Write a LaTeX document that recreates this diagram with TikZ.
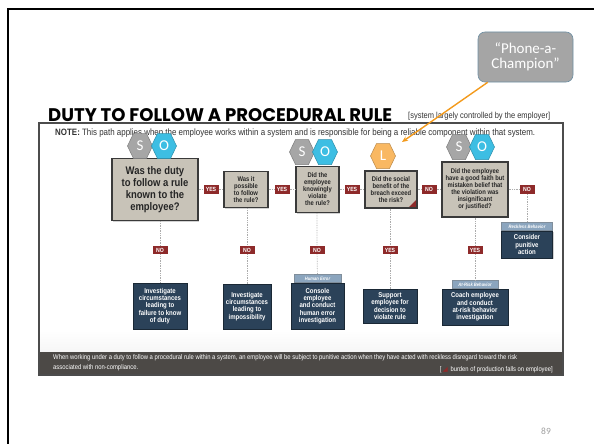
\documentclass[tikz,border=0pt]{standalone}
\usepackage{fontspec}
\usetikzlibrary{shadows,arrows.meta,calc}

\newfontfamily\condf{Liberation Sans}[FakeStretch=0.86]
\newfontfamily\headf{Poppins}
\newfontfamily\calf{Carlito}
\newfontfamily\symf{DejaVu Sans}

\definecolor{qfill}{HTML}{C8C3B8}
\definecolor{qline}{HTML}{3A3A3A}
\definecolor{navy}{HTML}{2B4259}
\definecolor{tagred}{HTML}{8E2A2A}
\definecolor{barblue}{HTML}{8BA5BE}
\definecolor{footgray}{HTML}{4C4946}
\definecolor{hexS}{HTML}{A6A6A6}
\definecolor{hexO}{HTML}{3DBEE3}
\definecolor{hexL}{HTML}{F9B862}
\definecolor{callgray}{HTML}{A5A5A5}
\definecolor{callline}{HTML}{6E8FA3}
\definecolor{arroworange}{HTML}{F39A1C}
\definecolor{notegray}{HTML}{333333}

% hexagonal letter badge: name, x, y, colour, letter
\newcommand\hexcell[5]{%
  \filldraw[fill=#4, draw=#4!75!black, line width=0.5pt]
    (#2,#3) +(-12.5,0) -- +(-6.5,-12.5) -- +(6.5,-12.5) -- +(12.5,0)
    -- +(6.5,12.5) -- +(-6.5,12.5) -- cycle;
  \node[hexlet] (#1) at (#2,#3) {#5};}

\begin{document}
\begin{tikzpicture}[x=1pt, y=-1pt,
  shade/.style={drop shadow={shadow xshift=1.2pt, shadow yshift=-1.2pt, opacity=0.35}},
  question/.style={draw=qline, line width=1.4pt, fill=qfill, align=center,
    inner sep=0pt, text=black!85, font=\condf\bfseries\fontsize{6.8}{7}\selectfont, shade},
  result/.style={draw=navy!60!black, line width=0.8pt, fill=navy, text=white,
    align=center, inner sep=0pt, font=\condf\bfseries\fontsize{7}{7.3}\selectfont, shade},
  tag/.style={fill=tagred, text=white, font=\condf\bfseries\fontsize{6}{6}\selectfont,
    minimum width=15pt, minimum height=8.5pt, inner sep=0pt},
  barlabel/.style={fill=barblue, draw=navy!60, line width=0.4pt, text=white,
    font=\condf\bfseries\itshape\fontsize{4.8}{5}\selectfont, minimum height=8pt, inner sep=0pt},
  link/.style={draw=gray!65, line width=0.7pt, densely dotted},
  hexlet/.style={text=white, font=\calf\fontsize{15}{15}\selectfont, inner sep=0pt},
]
\useasboundingbox (0,0) rectangle (594,444);

% slide frame
\draw[line width=2pt, line join=miter] (8,444) -- (8,9) -- (594,9);

% heading
\node[anchor=south west, inner sep=0pt] (title) at (48,122)
  {\resizebox{344pt}{13pt}{\headf\bfseries DUTY TO FOLLOW A PROCEDURAL RULE}};
\node[anchor=west, inner sep=0pt, text=notegray] (scope) at (408,116)
  {\resizebox{142pt}{!}{\condf\fontsize{6}{7}\selectfont [system largely controlled by the employer]}};

% panel
\draw[line width=1.5pt, draw=black!70, fill=white, shade] (39,123) rectangle (563,375);
\shade[top color=white, bottom color=gray!7] (40,330) rectangle (562,352);
\fill[footgray] (39,352) rectangle (563,375);
\draw[line width=1.5pt, draw=black!70] (39,123) rectangle (563,375);

\node[anchor=west, inner sep=0pt, text=notegray] (note) at (55,133)
  {\resizebox{480pt}{!}{\condf\fontsize{6}{7}\selectfont\textbf{NOTE:} This path applies when the employee works within a system and is responsible for being a reliable component within that system.}};

% questions
\node[question, minimum width=86pt, minimum height=62pt,
  font=\condf\bfseries\fontsize{11}{12}\selectfont] (q1) at (155,189.5)
  {Was the duty\\to follow a rule\\known to the\\employee?};
\node[question, minimum width=44pt, minimum height=36pt] (q2) at (246,189.5)
  {Was it\\possible\\to follow\\the rule?};
\node[question, minimum width=43pt, minimum height=46pt] (q3) at (317.5,189.5)
  {Did the\\employee\\knowingly\\violate\\the rule?};
\node[question, minimum width=52pt, minimum height=37pt,
  path picture={\fill[tagred] (path picture bounding box.south east)
     -- ++(-9pt,0pt) -- ++(9pt,9pt) -- cycle;}] (q4) at (391,189.5)
  {Did the social\\benefit of the\\breach exceed\\the risk?};
\node[question, minimum width=66pt, minimum height=55pt] (q5) at (475,189.5)
  {Did the employee\\have a good faith but\\mistaken belief that\\the violation was\\insignificant\\or justified?};

% answers along the main row
\node[tag] (t12) at (211,189.5) {YES};
\node[tag] (t23) at (282,189.5) {YES};
\node[tag] (t34) at (352,189.5) {YES};
\node[tag] (t45) at (429,189.5) {NO};
\node[tag] (t5r) at (527,189.5) {NO};

% answers down the columns
\node[tag] (n1) at (160,250) {NO};
\node[tag] (n2) at (247,250) {NO};
\node[tag] (n3) at (317,250) {NO};
\node[tag] (y4) at (390,250) {YES};
\node[tag] (y5) at (475,250) {YES};

% outcomes
\node[result, minimum width=54pt, minimum height=46pt] (r1) at (160,306)
  {Investigate\\circumstances\\leading to\\failure to know\\of duty};
\node[result, minimum width=48pt, minimum height=45pt] (r2) at (247,306.5)
  {Investigate\\circumstances\\leading to\\impossibility};
\node[result, minimum width=53pt, minimum height=46pt] (r3) at (317.5,306)
  {Console\\employee\\and conduct\\human error\\investigation};
\node[result, minimum width=54pt, minimum height=34pt] (r4) at (390,306)
  {Support\\employee for\\decision to\\violate rule};
\node[result, minimum width=66pt, minimum height=36pt] (r5) at (475,307)
  {Coach employee\\and conduct\\at-risk behavior\\investigation};
\node[result, minimum width=51pt, minimum height=27pt] (r6) at (527,244.5)
  {Consider\\punitive\\action};

\node[barlabel, minimum width=47pt, anchor=south] (b3) at (r3.north) {Human Error};
\node[barlabel, minimum width=46pt, anchor=south] (b5) at (r5.north) {At-Risk Behavior};
\node[barlabel, minimum width=51pt, anchor=south] (b6) at (r6.north) {Reckless Behavior};

% connectors
\draw[link] (q1) -- (t12) -- (q2);
\draw[link] (q2) -- (t23) -- (q3);
\draw[link] (q3) -- (t34) -- (q4);
\draw[link] (q4) -- (t45) -- (q5);
\draw[link] (q5) -- (t5r) -- (b6);
\draw[link] (q1.south -| n1) -- (n1) -- (r1);
\draw[link] (q2.south -| n2) -- (n2) -- (r2);
\draw[link] (q3.south -| n3) -- (n3) -- (b3);
\draw[link] (q4.south -| y4) -- (y4) -- (r4);
\draw[link] (q5.south -| y5) -- (y5) -- (b5);

% badges
\hexcell{s1}{140}{146}{hexS}{S}
\hexcell{o1}{164}{146}{hexO}{O}
\hexcell{s3}{302}{152}{hexS}{S}
\hexcell{o3}{325}{152}{hexO}{O}
\hexcell{l4}{383}{156}{hexL}{L}
\hexcell{s5}{459}{147}{hexS}{S}
\hexcell{o5}{482}{147}{hexO}{O}

% footer
\node[anchor=north west, inner sep=0pt, text=white] (foot) at (53,353)
  {\resizebox{464pt}{!}{\condf\fontsize{5}{7}\selectfont\begin{tabular}{@{}l@{}}
   When working under a duty to follow a procedural rule within a system, an employee will be subject to punitive action when they have acted with reckless disregard toward the risk\\
   associated with non-compliance.\end{tabular}}};
\node[anchor=east, inner sep=0pt, text=white] (burden) at (553,369.5)
  {\resizebox{113pt}{!}{\condf\fontsize{5}{6}\selectfont [\,{\symf\color{tagred}◢}\, burden of production falls on employee]}};

% call-out
\node[fill=callgray, draw=callline, line width=0.6pt, rounded corners=7pt,
  minimum width=95pt, minimum height=50pt, align=center, text=white,
  font=\calf\fontsize{15}{15.5}\selectfont, inner sep=0pt] (callout) at (525.5,57)
  {“Phone-a-\\Champion”};
\coordinate (tipL) at (402,142);
\draw[arroworange, line width=1.4pt, -{Stealth[length=6pt,width=5pt]}]
  ([xshift=10pt]callout.south west) -- (tipL);

% page number
\node[text=gray!75, font=\calf\fontsize{9.5}{10}\selectfont, inner sep=0pt] (page) at (546,431) {89};
\end{tikzpicture}
\end{document}
